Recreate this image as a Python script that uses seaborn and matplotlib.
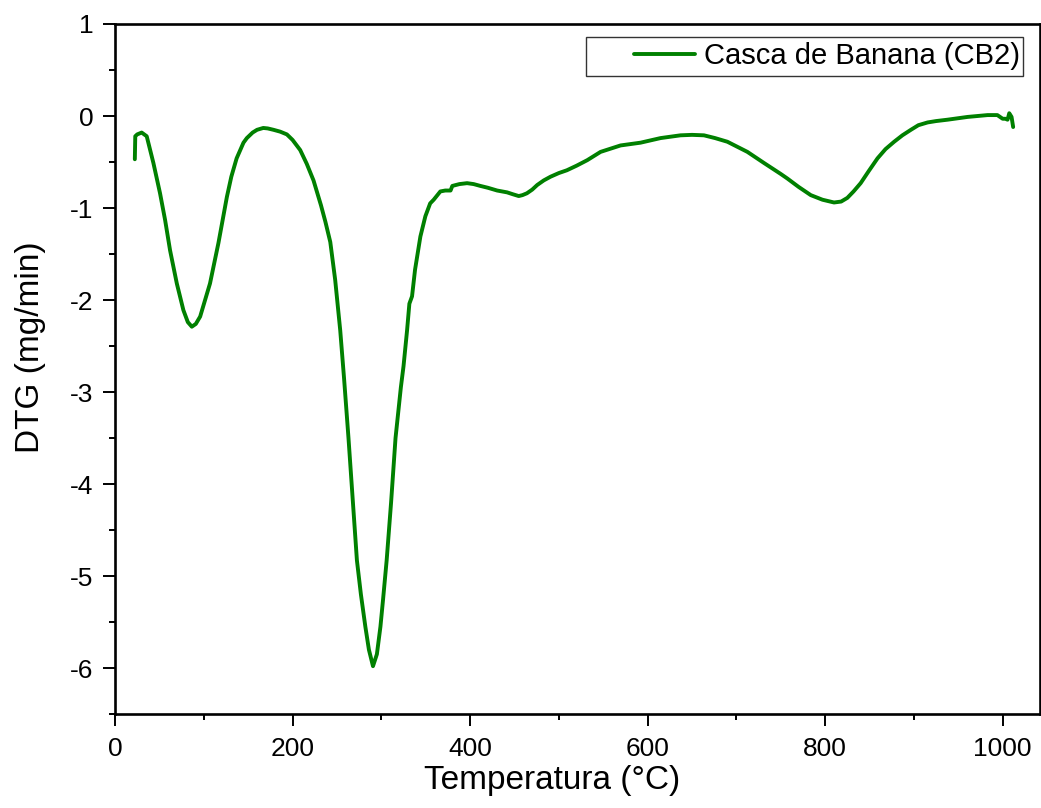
import matplotlib
matplotlib.use("Agg")
import matplotlib.pyplot as plt
from matplotlib.patches import Rectangle
from matplotlib.ticker import MultipleLocator
import seaborn as sns
import pandas as pd

# DTG curve of banana peel (CB2): temperature (°C) and mass-loss rate (mg/min)
temperature = [
    22.3, 22.8, 25, 30, 35.7, 43.2, 50.7, 56.4, 62, 69.6, 77, 82, 86.5, 91, 95.9,
    107, 116.5, 126, 131, 137, 144.7, 148.5, 155, 160, 167, 172, 178.5, 186,
    193.6, 200, 208.6, 216, 223.6, 232, 237, 242.5, 248, 253.7, 258, 263, 268,
    272.5, 277, 282, 286, 290.6, 295, 299, 302, 306, 311, 316, 322, 325, 329,
    331.6, 334.6, 338, 344, 349.6, 355, 359, 366.5, 372, 378, 380, 388, 396.6,
    404, 411.6, 420, 430.5, 441.7, 448, 454.8, 459, 464, 470, 475.6, 483, 490.6,
    500, 509, 520, 532, 547, 569.5, 592, 614.6, 637, 650, 663.5, 676, 689.9,
    712.4, 731, 750, 757.5, 770, 783.8, 797, 810, 818, 825, 832, 840, 849, 859,
    868, 877.7, 887, 896.6, 905, 915.4, 925, 938, 960.5, 983, 994, 1000, 1003,
    1005.5, 1007.4, 1010, 1011.8,
]
dtg = [
    -0.47, -0.22, -0.20, -0.18, -0.22, -0.51, -0.84, -1.13, -1.46, -1.82, -2.11,
    -2.24, -2.29, -2.26, -2.18, -1.82, -1.38, -0.88, -0.66, -0.46, -0.29, -0.24,
    -0.18, -0.15, -0.13, -0.135, -0.15, -0.17, -0.20, -0.26, -0.37, -0.52, -0.70,
    -0.97, -1.15, -1.37, -1.78, -2.33, -2.85, -3.50, -4.20, -4.83, -5.20, -5.55,
    -5.80, -5.98, -5.85, -5.55, -5.25, -4.83, -4.20, -3.50, -2.95, -2.72, -2.33,
    -2.04, -1.96, -1.67, -1.31, -1.09, -0.95, -0.91, -0.82, -0.81, -0.81, -0.76,
    -0.74, -0.73, -0.74, -0.76, -0.78, -0.81, -0.83, -0.85, -0.87, -0.86, -0.84,
    -0.80, -0.75, -0.70, -0.66, -0.62, -0.59, -0.54, -0.48, -0.39, -0.32, -0.29,
    -0.24, -0.21, -0.205, -0.21, -0.24, -0.28, -0.39, -0.51, -0.63, -0.68, -0.77,
    -0.86, -0.91, -0.94, -0.93, -0.89, -0.82, -0.73, -0.60, -0.46, -0.36, -0.28,
    -0.21, -0.15, -0.10, -0.07, -0.055, -0.04, -0.01, 0.01, 0.01, -0.03, -0.03,
    -0.04, 0.03, -0.01, -0.12,
]
series_label = "Casca de Banana (CB2)"
x_label = "Temperatura (°C)"
y_label = "DTG (mg/min)"
x_ticks = [0, 200, 400, 600, 800, 1000]
y_ticks = [-6, -5, -4, -3, -2, -1, 0, 1]

df = pd.DataFrame({"T": temperature, "DTG": dtg})

sns.set_style("ticks")
plt.rcParams["font.family"] = ["Liberation Sans", "DejaVu Sans"]
plt.rcParams["axes.unicode_minus"] = False
plt.rcParams["text.color"] = "black"
plt.rcParams["axes.labelcolor"] = "black"

fig = plt.figure(figsize=(10.41, 8.08), dpi=100)
ax = fig.add_axes([0.1105, 0.1163, 0.8885, 0.8540])

sns.lineplot(data=df, x="T", y="DTG", ax=ax, color="#008000", linewidth=2.8,
             estimator=None, sort=False, label=series_label,
             solid_joinstyle="round", solid_capstyle="round")

ax.set_xlim(0, 1042)
ax.set_ylim(-6.5, 1)
ax.set_xticks(x_ticks)
ax.set_yticks(y_ticks)
ax.set_xticklabels([str(v) for v in x_ticks])
ax.set_yticklabels([str(v) for v in y_ticks])
ax.xaxis.set_minor_locator(MultipleLocator(100))
ax.yaxis.set_minor_locator(MultipleLocator(0.5))

ax.tick_params(axis="both", which="major", direction="out", length=8.6,
               width=1.4, labelsize=19, color="black", labelcolor="black")
ax.tick_params(axis="x", which="major", pad=8)
ax.tick_params(axis="y", which="major", pad=7)
ax.tick_params(axis="both", which="minor", direction="out", length=4.3,
               width=1.4, color="black")
ax.tick_params(top=False, right=False, which="both")

for side in ["left", "right", "top", "bottom"]:
    ax.spines[side].set_visible(True)
    ax.spines[side].set_linewidth(1.9)
    ax.spines[side].set_color("black")

ax.set_xlabel(x_label, fontsize=24, color="black")
ax.set_ylabel(y_label, fontsize=24, color="black")
ax.xaxis.set_label_coords(0.4724, -0.074)
ax.yaxis.set_label_coords(-0.075, 0.532)

# legend text and handle, with a plain rectangular frame drawn behind it
leg = ax.legend(loc="center left", bbox_to_anchor=(0.561, 0.953),
                borderaxespad=0, borderpad=0, frameon=False, fontsize=21,
                handlelength=2.09, handletextpad=0.3)
for txt in leg.get_texts():
    txt.set_color("black")
ax.add_patch(Rectangle((0.509, 0.9246), 0.4726, 0.0566, transform=ax.transAxes,
                       fill=False, edgecolor="#333333", linewidth=1.0, zorder=3))

fig.savefig("out.png", dpi=100)
